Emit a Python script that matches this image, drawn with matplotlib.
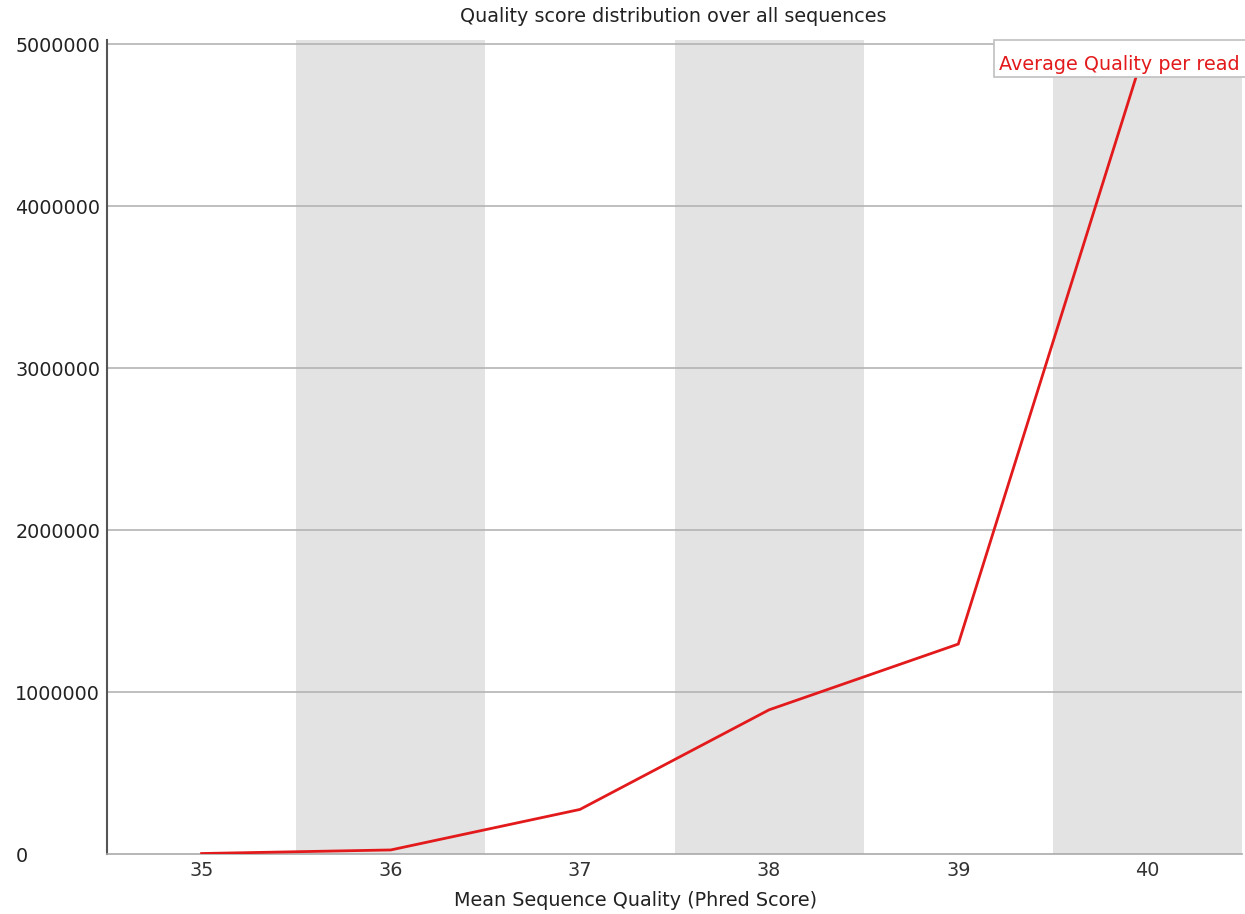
import matplotlib.pyplot as plt
from matplotlib.patches import Rectangle
import numpy as np

# mean phred score per read vs number of reads
quality = [35, 36, 37, 38, 39, 40]
counts = [3000, 25000, 275000, 890000, 1296000, 5020000]

yticks = [0, 1000000, 2000000, 3000000, 4000000, 5000000]

FS = 13.8

fig = plt.figure(figsize=(12.45, 9.14), dpi=100)
ax = fig.add_axes([107 / 1245, 60 / 914, 1135 / 1245, 814 / 914])

# alternating shaded columns behind every other score
for i, q in enumerate(quality):
    if i % 2 == 1:
        ax.axvspan(q - 0.5, q + 0.5, color='#e3e3e3', lw=0, zorder=0)

ax.set_xlim(quality[0] - 0.5, quality[-1] + 0.5)
ax.set_ylim(0, 5025000)

for t in yticks[1:]:
    ax.axhline(t, color='#b4b4b4', lw=1.2, zorder=1)

ax.plot(quality, counts, color='#e31a1c', lw=2.0, zorder=3, solid_joinstyle='miter')

ax.set_xticks(quality)
ax.set_xticklabels([str(q) for q in quality], fontsize=FS, color='#333333')
ax.set_yticks(yticks)
ax.set_yticklabels([str(t) for t in yticks], fontsize=FS, color='#222222',
                   ha='left')
ax.tick_params(axis='y', length=0, pad=66)
ax.tick_params(axis='x', length=0, pad=5)

for s in ['top', 'right']:
    ax.spines[s].set_visible(False)
ax.spines['left'].set_color('#555555')
ax.spines['left'].set_linewidth(1.5)
ax.spines['bottom'].set_color('#aaaaaa')
ax.spines['bottom'].set_linewidth(1.2)

fig.text(636 / 1245, 1 - 901 / 914, 'Mean Sequence Quality (Phred Score)',
         ha='center', va='center', fontsize=FS, color='#222222')
fig.text(673 / 1245, 1 - 17 / 914, 'Quality score distribution over all sequences',
         ha='center', va='center', fontsize=FS, color='#222222')

# legend box in the upper right corner
fig.patches.append(Rectangle((994 / 1245, 1 - 77 / 914), 260 / 1245, 37 / 914,
                             transform=fig.transFigure, facecolor='white',
                             edgecolor='#c0c0c0', lw=1.2, zorder=5))
fig.text(1240 / 1245, 1 - 64 / 914, 'Average Quality per read', ha='right',
         va='center', fontsize=FS, color='#e31a1c', zorder=6)

fig.savefig('out.png', dpi=100)
